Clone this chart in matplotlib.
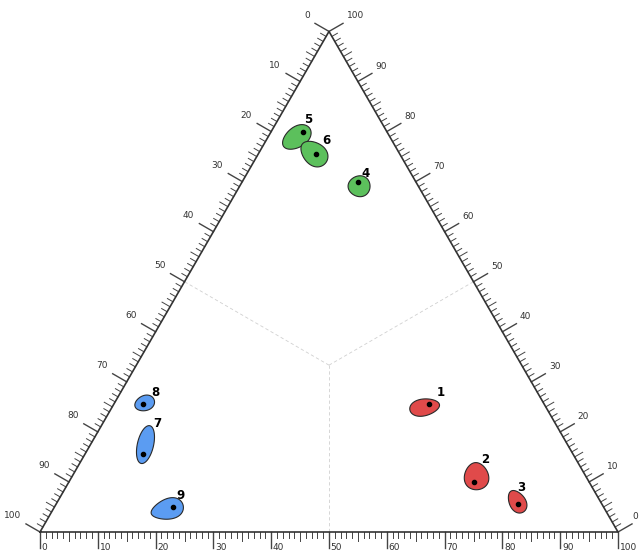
"""Ternary diagram with nine samples and their uncertainty regions."""

import numpy as np
import matplotlib

matplotlib.use("Agg")
import matplotlib.pyplot as plt  # noqa: E402
from matplotlib.patches import Polygon  # noqa: E402

H = np.sqrt(3) / 2

# sample compositions (% of the top / bottom-right / bottom-left vertex)
sample_ids = ["1", "2", "3", "4", "5", "6", "7", "8", "9"]
top_pct = [25.5, 10.0, 5.5, 70.0, 80.0, 75.5, 15.5, 25.5, 5.0]
right_pct = [54.5, 70.0, 80.0, 20.0, 5.5, 10.0, 10.0, 5.0, 20.5]
left_pct = [100 - t - r for t, r in zip(top_pct, right_pct)]
groups = ["a", "a", "a", "b", "b", "b", "c", "c", "c"]

# uncertainty regions around each sample (offset, length, width, tilt, asymmetry)
region_dx = [-0.7, 0.5, -0.2, 0.2, -1.1, -0.35, 0.5, 0.35, -1.0]
region_dy = [-0.5, 1.0, 0.5, -0.8, -1.0, 0.1, 1.7, 0.2, -0.4]
region_len = [5.2, 4.7, 4.2, 3.8, 5.5, 5.2, 6.7, 3.5, 5.7]
region_wid = [2.9, 4.2, 2.8, 3.6, 3.5, 3.8, 2.8, 2.6, 3.5]
region_angle = [10, 95, -60, 0, 35, -40, 77, 20, 15]
region_egg = [-0.15, -0.15, 0.15, 0.1, 0.1, 0.15, 0.0, 0.1, 0.25]

GROUP_COLORS = {"a": "#e04a4a", "b": "#5cc05c", "c": "#5b9cf2"}

# label placement relative to the point, in pixels (right, up)
label_dx_px = [12, 12, 3, 8, 5, 10, 15, 13, 8]
label_dy_px = [12, 22, 17, 8, 12, 14, 31, 12, 11]

PX = 5.78  # pixels per ternary unit


def to_xy(top, right):
    return right + top / 2, top * H


def blob(cx, cy, length, width, angle, egg):
    t = np.linspace(0, 2 * np.pi, 120)
    u = length / 2 * np.cos(t)
    v = width / 2 * np.sin(t) * (1 + egg * np.cos(t))
    a = np.deg2rad(angle)
    x = cx + u * np.cos(a) - v * np.sin(a)
    y = cy + u * np.sin(a) + v * np.cos(a)
    return np.column_stack([x, y])


def draw_frame(ax):
    corners = np.array([[0, 0], [100, 0], [50, 100 * H], [0, 0]])
    ax.plot(corners[:, 0], corners[:, 1], color="#333333", lw=1.2, zorder=3)

    # dashed guides from centroid to edge midpoints
    cx, cy = 50, 100 * H / 3
    for mx, my in [(50, 0), (25, 50 * H), (75, 50 * H)]:
        ax.plot([cx, mx], [cy, my], color="#d0d0d0", lw=0.6, ls=(0, (4, 3)), zorder=1)

    n_left = np.array([-H, 0.5])
    n_right = np.array([H, 0.5])
    n_bottom = np.array([0.0, -1.0])
    for v in range(0, 101):
        if v % 10 == 0:
            length, lw = 2.8, 1.0
        elif v % 5 == 0:
            length, lw = 1.6, 0.7
        else:
            length, lw = 1.1, 0.7
        # bottom axis: 0 left -> 100 right
        p = np.array([v, 0.0])
        q = p + n_bottom * length
        ax.plot([p[0], q[0]], [p[1], q[1]], color="#444444", lw=lw, zorder=2)
        # left axis: 0 at top -> 100 at bottom-left
        p = np.array([50 - v / 2, 100 * H * (1 - v / 100)])
        q = p + n_left * length
        ax.plot([p[0], q[0]], [p[1], q[1]], color="#444444", lw=lw, zorder=2)
        # right axis: 0 at bottom-right -> 100 at top
        p = np.array([100 - v / 2, 100 * H * v / 100])
        q = p + n_right * length
        ax.plot([p[0], q[0]], [p[1], q[1]], color="#444444", lw=lw, zorder=2)

        if v % 10 == 0:
            lab = str(v)
            ax.text(v + 0.3, -2.6, lab, fontsize=6.5, color="#333333",
                    ha="left", va="center")
            p = np.array([50 - v / 2, 100 * H * (1 - v / 100)]) + n_left * 2.8
            ax.text(p[0] - 0.9, p[1] + 0.6, lab, fontsize=6.5, color="#333333",
                    ha="right", va="bottom")
            p = np.array([100 - v / 2, 100 * H * v / 100]) + n_right * 2.8
            dx = 0.0 if v == 0 else 0.6  # keep the corner label inside the frame
            ax.text(p[0] + dx, p[1] + 0.5, lab, fontsize=6.5, color="#333333",
                    ha="left", va="bottom")


def main():
    fig = plt.figure(figsize=(6.39, 5.53), dpi=100)
    ax = fig.add_axes([0, 0, 1, 1])
    ax.set_xlim(-40 / PX, 599 / PX)
    ax.set_ylim(-21 / PX, 532 / PX)
    ax.axis("off")

    draw_frame(ax)

    for i, sid in enumerate(sample_ids):
        x, y = to_xy(top_pct[i], right_pct[i])
        pts = blob(x + region_dx[i], y + region_dy[i], region_len[i],
                   region_wid[i], region_angle[i], region_egg[i])
        ax.add_patch(Polygon(pts, closed=True, facecolor=GROUP_COLORS[groups[i]],
                             edgecolor="#2a2a2a", lw=0.8, zorder=4))
        ax.plot(x, y, "o", color="black", ms=3, zorder=5)
        ax.annotate(sid, (x, y), xytext=(label_dx_px[i] * 0.72, label_dy_px[i] * 0.72),
                    textcoords="offset points", ha="center", va="center",
                    fontsize=8.5, fontweight="bold", color="black", zorder=6)

    fig.savefig("out.png", dpi=100)
    plt.close(fig)


if __name__ == "__main__":
    main()
